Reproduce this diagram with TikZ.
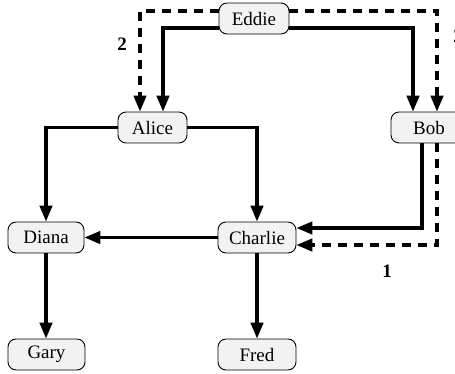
\documentclass[tikz,border=0pt]{standalone}
\usepackage{fontspec}
\setmainfont{Liberation Serif}
\usetikzlibrary{arrows.meta,calc}
\begin{document}
\begin{tikzpicture}[x=1pt,y=-1pt,
 person/.style={draw,line width=0.9pt,rounded corners=8pt,fill=gray!10,minimum height=31pt,inner sep=0pt,font=\fontsize{19}{21}\selectfont},
 link/.style={line width=3.1pt,-{Triangle[length=16pt,width=12.5pt]}},
 flow/.style={link,dash pattern=on 9pt off 7pt},
 lbl/.style={font=\fontsize{19}{21}\selectfont\bfseries}]
\useasboundingbox (0,0) rectangle (455,373);
\node[person,minimum width=70pt] (eddie) at (254,18.5) {Eddie};
\node[person,minimum width=69pt] (alice) at (152.5,127.5) {Alice};
\node[person,minimum width=76pt] (bob) at (429,127.5) {Bob};
\node[person,minimum width=76pt] (diana) at (46,237.5) {Diana};
\node[person,minimum width=78pt] (charlie) at (257,237.5) {Charlie};
\node[person,minimum width=77pt] (gary) at (46.5,354.5) {Gary};
\node[person,minimum width=78pt] (fred) at (257,354.5) {Fred};
% solid hierarchy
\draw[link] ($(eddie.west)+(0,9.5)$) -| ($(alice.north)+(10.5,0)$);
\draw[link] ($(eddie.east)+(0,9.5)$) -| ($(bob.north)+(-16,0)$);
\draw[link] (alice.west) -| (diana.north);
\draw[link] (alice.east) -| (charlie.north);
\draw[link] ($(bob.south)+(-7,0)$) |- ($(charlie.east)+(0,-9.5)$);
\draw[link] (charlie.west) -- (diana.east);
\draw[link] (diana.south) -- (diana.south |- gary.north);
\draw[link] (charlie.south) -- (charlie.south |- fred.north);
% dashed flows
\draw[flow] ($(eddie.west)+(0,-7.5)$) -| ($(alice.north)+(-12.5,0)$);
\draw[flow] ($(eddie.east)+(0,-7.5)$) -| ($(bob.north)+(8,0)$);
\draw[flow] ($(bob.south)+(8,0)$) |- ($(charlie.east)+(0,7.5)$);
% labels
\node[lbl] (l2a) at (122,44) {2};
\node[lbl] (l2b) at (458,36) {2};
\node[lbl] (l1) at (387,271) {1};
\end{tikzpicture}
\end{document}
